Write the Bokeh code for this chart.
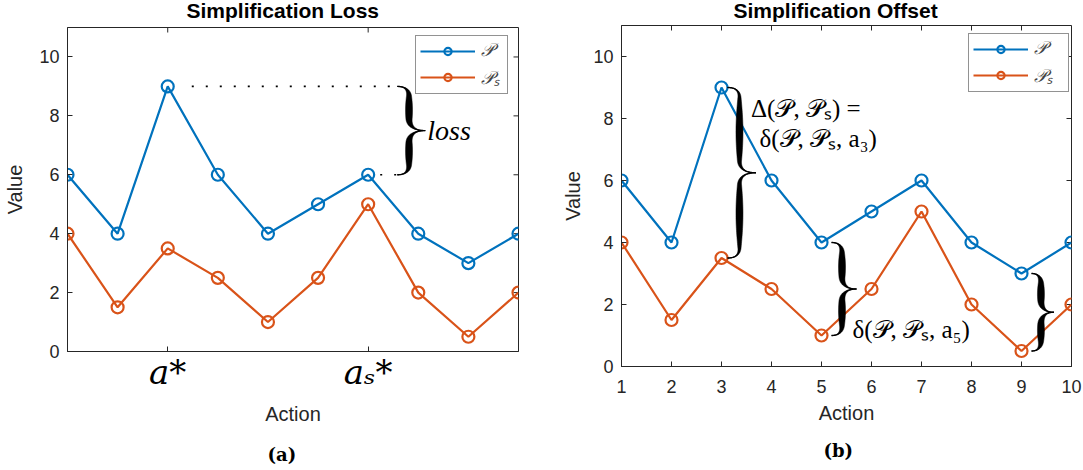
import numpy as np
from bokeh.plotting import figure
from bokeh.models import Range1d, FixedTicker, Legend, LegendItem, Label, Title
from bokeh.layouts import row
from bokeh.embed import file_html
from bokeh.resources import INLINE

# ---------------- data ----------------
actions = [1, 2, 3, 4, 5, 6, 7, 8, 9, 10]
p_vals = [6, 4, 9, 6, 4, 5, 6, 4, 3, 4]
ps_vals = [4, 1.5, 3.5, 2.5, 1, 2.5, 5, 2, 0.5, 2]
y_ticks = [0, 2, 4, 6, 8, 10]
loss_ticks = [3, 7]
loss_tick_names = ["a*", "aₛ*"]
offset_ticks = actions
series_names = ["𝒫", "𝒫ₛ"]
titles = ["Simplification Loss", "Simplification Offset"]
captions = ["(a)", "(b)"]

BLUE = "#0072BD"
ORANGE = "#D95319"
AX = "#262626"
SANS = "Liberation Sans"
SERIF = "Liberation Serif"
X_LO, X_HI, Y_LO, Y_HI = 1, 10, 0, 11


def make_fig(fw, fh, bl, br, bb, shift, xticks, title, title_off, title_standoff,
             caption, cap_off, cap_standoff):
    p = figure(frame_width=fw, frame_height=fh, min_border_left=bl, min_border_right=br,
               min_border_top=40, min_border_bottom=bb,
               x_range=Range1d(X_LO, X_HI), y_range=Range1d(Y_LO, Y_HI),
               output_backend="svg", toolbar_location=None)
    p.margin = (-shift, 0, -15, 0)
    p.title = Title(text=title, align="left", offset=title_off, standoff=title_standoff,
                    text_font=SANS, text_font_size="21px", text_font_style="bold",
                    text_color="black")
    p.grid.visible = False
    p.outline_line_color = AX
    p.outline_line_width = 1
    p.outline_line_alpha = 1
    p.background_fill_color = "white"
    p.border_fill_color = "white"
    xa, ya = p.below[0], p.left[0]
    for ax in (xa, ya):
        ax.major_tick_in = 5
        ax.major_tick_out = 0
        ax.minor_tick_line_color = None
        ax.axis_line_color = AX
        ax.major_tick_line_color = AX
        ax.major_label_text_font = SANS
        ax.major_label_text_font_size = "18px"
        ax.major_label_text_color = AX
        ax.axis_label_text_font = SANS
        ax.axis_label_text_font_size = "20px"
        ax.axis_label_text_font_style = "normal"
        ax.axis_label_text_color = AX
    xa.ticker = FixedTicker(ticks=xticks)
    ya.ticker = FixedTicker(ticks=y_ticks)
    xa.axis_label = "Action"
    ya.axis_label = "Value"
    ya.major_label_standoff = 8
    ya.axis_label_standoff = 10
    p.add_layout(Title(text=caption, align="left", offset=cap_off, standoff=cap_standoff,
                       text_font="DejaVu Serif", text_font_size="18px",
                       text_font_style="bold", text_color="black"), "below")
    return p, xa, ya


def mirror_ticks(p, xticks, ppx, ppy, tick_px=5):
    # MATLAB-style box: inward ticks on the top and right edges
    p.segment(x0=xticks, y0=[Y_HI] * len(xticks), x1=xticks,
              y1=[Y_HI - tick_px / ppy] * len(xticks), line_color=AX, line_width=1)
    p.segment(x0=[X_HI] * len(y_ticks), y0=y_ticks, x1=[X_HI - tick_px / ppx] * len(y_ticks),
              y1=y_ticks, line_color=AX, line_width=1)


def add_series(p, legend_xy, label_w):
    items = []
    for vals, col, name in ((p_vals, BLUE, series_names[0]), (ps_vals, ORANGE, series_names[1])):
        lr = p.line(actions, vals, line_color=col, line_width=2.2)
        sr = p.scatter(actions, vals, marker="circle", size=12, line_color=col,
                       line_width=2.2, fill_color=None)
        items.append(LegendItem(label=name, renderers=[lr, sr]))
    lg = Legend(items=items, location=legend_xy, glyph_width=55, glyph_height=18,
                label_standoff=6, padding=4, spacing=4, margin=0, label_width=label_w,
                border_line_color=AX, border_line_width=1,
                label_text_font=SERIF, label_text_font_size="18px",
                label_text_font_style="italic", background_fill_alpha=1)
    p.add_layout(lg)


def brace(x0, y_top, y_bot, w, ppx, ppy, tmax=7.0, hk_end=10.0, hk_tip=12.0, n=30):
    ym = (y_top + y_bot) / 2.0
    xs = x0 + 0.42 * w
    xt = x0 + w
    he = hk_end / ppy
    ht = hk_tip / ppy
    t = np.linspace(0, 1, n)
    hx = (1 - t) ** 2 * x0 + 2 * (1 - t) * t * xs + t ** 2 * xs
    hy = (1 - t) ** 2 * y_top + 2 * (1 - t) * t * y_top + t ** 2 * (y_top - he)
    sx = np.full(n, xs)
    sy = np.linspace(y_top - he, ym + ht, n)
    tx = (1 - t) ** 2 * xs + 2 * (1 - t) * t * xs + t ** 2 * xt
    ty = (1 - t) ** 2 * (ym + ht) + 2 * (1 - t) * t * ym + t ** 2 * ym
    ux = np.concatenate([hx, sx[1:], tx[1:]])
    uy = np.concatenate([hy, sy[1:], ty[1:]])
    seg = np.concatenate([[0], np.cumsum(np.hypot(np.diff(ux) * ppx, np.diff(uy) * ppy))])
    u = seg / seg[-1]
    th = tmax * np.sin(np.pi * u) ** 1.2 / ppx
    lx = ux[::-1][1:]
    ly = (2 * ym - uy)[::-1][1:]
    cx = np.concatenate([ux, lx])
    cy = np.concatenate([uy, ly])
    tt = np.concatenate([th, th[::-1][1:]])
    px = np.concatenate([cx - tt / 2, (cx + tt / 2)[::-1]])
    py = np.concatenate([cy, cy[::-1]])
    return list(px), list(py), list(cx), list(cy)


def draw_braces(p, specs, ppx, ppy):
    PX, PY, CX, CY = [], [], [], []
    for (x0, yt, yb, w) in specs:
        a, b, c, d = brace(x0, yt, yb, w, ppx, ppy)
        PX.append(a); PY.append(b); CX.append(c); CY.append(d)
    p.patches(PX, PY, fill_color="black", line_color="black", line_width=0.5)
    p.multi_line(CX, CY, line_color="black", line_width=1.4)


def lab(p, x, y, text, size, font=SERIF, style="normal", align="left", baseline="middle"):
    p.add_layout(Label(x=x, y=y, text=text, text_font=font, text_font_size=size,
                       text_font_style=style, text_align=align, text_baseline=baseline,
                       text_color="black"))


# ---------------- left: Simplification Loss ----------------
PPX1, PPY1 = 50.15, 29.45
p1, xa1, ya1 = make_fig(451, 324, 67, 23, 119, 13, loss_ticks, titles[0], 119, 12,
                        captions[0], 200, 28)
xa1.major_label_overrides = {t: n for t, n in zip(loss_ticks, loss_tick_names)}
xa1.major_label_text_font = "DejaVu Serif"
xa1.major_label_text_font_style = "italic"
xa1.major_label_text_font_size = "34px"
xa1.major_label_text_color = "black"
xa1.major_label_standoff = 0
xa1.axis_label_standoff = 8
mirror_ticks(p1, loss_ticks, PPX1, PPY1)
add_series(p1, (348, 257), 22)

i_max = int(np.argmax(p_vals))
i_smax = int(np.argmax(ps_vals))
bx = actions[i_smax] + 0.58
p1.line([actions[i_max] + 0.48, bx], [p_vals[i_max]] * 2, line_color="black",
        line_width=1.6, line_dash="2 12")
p1.line([actions[i_smax] + 0.24, bx], [p_vals[i_smax]] * 2, line_color="black",
        line_width=1.6, line_dash="2 12")
draw_braces(p1, [(bx, p_vals[i_max], p_vals[i_smax], 0.56)], PPX1, PPY1)
lab(p1, bx + 0.6, (p_vals[i_max] + p_vals[i_smax]) / 2, "loss", "28px", style="italic")

# ---------------- right: Simplification Offset ----------------
PPX2, PPY2 = 50.0, 31.0
p2, xa2, ya2 = make_fig(450, 341, 80, 12, 104, 15, offset_ticks, titles[1], 112, 8,
                        captions[1], 202, 22)
xa2.major_label_standoff = 13
xa2.axis_label_standoff = 6
ya2.axis_label_standoff = 6
mirror_ticks(p2, offset_ticks, PPX2, PPY2)
add_series(p2, (347, 274), 30)
specs = [(actions[2] + 0.12, p_vals[2], ps_vals[2], 0.57),
         (actions[4] + 0.2, p_vals[4], ps_vals[4], 0.5),
         (actions[8] + 0.2, p_vals[8], ps_vals[8], 0.45)]
draw_braces(p2, specs, PPX2, PPY2)
lab(p2, 3.59, 8.31, "Δ(𝒫, 𝒫ₛ) =", "25px")
lab(p2, 3.76, 7.37, "δ(𝒫, 𝒫ₛ, a₃)", "25px")
lab(p2, 5.62, 1.19, "δ(𝒫, 𝒫ₛ, a₅)", "25px")

layout = row(p1, p2, spacing=0)
open("out.html", "w").write(file_html(layout, INLINE))
